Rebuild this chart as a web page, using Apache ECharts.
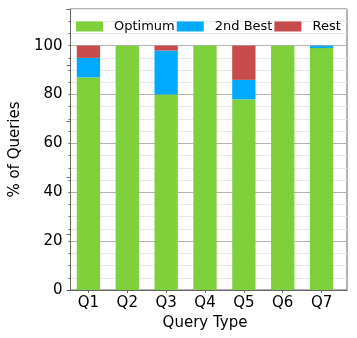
<!DOCTYPE html>
<html>
<head>
<meta charset="utf-8">
<script src="https://cdn.jsdelivr.net/npm/echarts@6/dist/echarts.min.js"></script>
<style>
html, body { margin: 0; padding: 0; background: #fff; }
#chart { width: 357px; height: 338px; }
</style>
</head>
<body>
<div id="chart"></div>
<script>
// data
var categories = ['Q1', 'Q2', 'Q3', 'Q4', 'Q5', 'Q6', 'Q7'];
var optimum = [87, 100, 80, 100, 78, 100, 99];
var secondBest = [8, 0, 18, 0, 8, 0, 1];
var rest = [5, 0, 2, 0, 14, 0, 0];
var yTicks = [0, 20, 40, 60, 80, 100];

var FONT = 'DejaVu Sans';
var AXIS_COLOR = '#666';

function barSeries(name, arr, color){
	return {
		name: name,
		type: 'bar',
		stack: 'all',
		xAxisIndex: 1,
		yAxisIndex: 2,
		barWidth: '60%',
		itemStyle: {
			color: color,
			borderWidth: 0
		},
		data: arr
	};
}

var chart = echarts.init(document.getElementById('chart'));
chart.setOption({
	animation: false,
	grid: [
		// frame + y grid
		{ left: 63, top: 9, right: 10, bottom: 48, show: true, borderColor: AXIS_COLOR, borderWidth: 1 },
		// bars (inner band, like matplotlib margins)
		{ left: 69, top: 9, right: 16, bottom: 48 }
	],
	legend: {
		left: 76,
		top: 20,
		padding: 0,
		itemWidth: 27,
		itemHeight: 10,
		itemGap: 2,
		icon: 'rect',
		textStyle: {
			fontFamily: FONT,
			fontSize: 13,
			color: '#000',
			padding: [0, 0, 0, 6]
		},
		data: ['Optimum', '2nd Best', 'Rest']
	},
	xAxis: [
		{
			gridIndex: 0,
			type: 'value',
			min: 0,
			max: 1,
			axisLine: { show: true, onZero: false, lineStyle: { color: AXIS_COLOR } },
			axisTick: { show: false },
			axisLabel: { show: false },
			splitLine: { show: false }
		},
		{
			gridIndex: 1,
			type: 'category',
			data: categories,
			name: 'Query Type',
			nameLocation: 'middle',
			nameGap: 25,
			nameTextStyle: { fontFamily: FONT, fontSize: 15, color: '#000' },
			axisLine: { show: false, onZero: false },
			axisTick: { show: true, length: 3, alignWithLabel: true, lineStyle: { color: AXIS_COLOR } },
			axisLabel: { margin: 6, fontFamily: FONT, fontSize: 15, color: '#000' },
			splitLine: { show: false }
		}
	],
	yAxis: [
		{
			// minor grid every 5
			gridIndex: 0,
			type: 'value',
			min: 0,
			max: 115,
			interval: 5,
			name: '% of Queries',
			nameLocation: 'middle',
			nameGap: 42,
			nameTextStyle: { fontFamily: FONT, fontSize: 15, color: '#000' },
			axisLine: { show: true, onZero: false, lineStyle: { color: AXIS_COLOR } },
			axisTick: { show: true, length: 2, lineStyle: { color: AXIS_COLOR } },
			axisLabel: {
				margin: 8,
				fontFamily: FONT,
				fontSize: 15,
				color: '#000',
				showMaxLabel: false,
				formatter: function(v){ return yTicks.indexOf(v) >= 0 ? String(v) : ''; }
			},
			splitLine: {
				show: true,
				lineStyle: { color: ['#b3b3b3', '#e8e8e8', '#e8e8e8', '#e8e8e8'], width: 1 }
			}
		},
		{
			// major ticks
			gridIndex: 0,
			type: 'value',
			min: 0,
			max: 100,
			interval: 20,
			position: 'left',
			axisLine: { show: false, onZero: false },
			axisTick: { show: true, length: 4, lineStyle: { color: AXIS_COLOR } },
			axisLabel: { show: false },
			splitLine: { show: false }
		},
		{
			gridIndex: 1,
			type: 'value',
			min: 0,
			max: 115,
			show: false
		}
	],
	series: [
		barSeries('Optimum', optimum, '#7fd13b'),
		barSeries('2nd Best', secondBest, '#00aaff'),
		barSeries('Rest', rest, '#c84b4b')
	]
});
</script>
</body>
</html>
